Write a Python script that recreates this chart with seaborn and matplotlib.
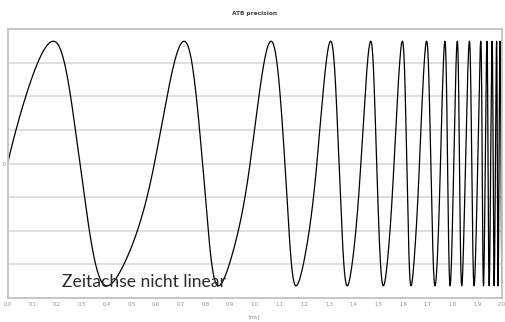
import numpy as np
import pandas as pd
import matplotlib
matplotlib.use("Agg")
import matplotlib.pyplot as plt
import seaborn as sns

# Turning points of the signal: zero crossings (0) and extremes (+1 / -1), time in ms
key_t = [0.000, 0.185, 0.293, 0.402, 0.594, 0.714, 0.789, 0.853, 0.981,
         1.066, 1.122, 1.167, 1.251, 1.307, 1.341, 1.374, 1.429, 1.469,
         1.493, 1.520, 1.563, 1.597, 1.615, 1.632, 1.666, 1.695, 1.712,
         1.729, 1.751, 1.769,
         1.790, 1.819, 1.837, 1.868, 1.887, 1.914, 1.925, 1.939, 1.948,
         1.960, 1.968, 1.978, 1.984, 1.992, 2.000]
key_v = [0, 1, 0, -1, 0, 1, 0, -1, 0,
         1, 0, -1, 0, 1, 0, -1, 0, 1,
         0, -1, 0, 1, 0, -1, 0, 1, 0,
         -1, 0, 1,
         -1, 1, -1, 1, -1, 1, -1, 1, -1,
         1, -1, 1, -1, 1, -1]

x_ticks = [round(0.1 * i, 1) for i in range(21)]
x_tick_labels = [f"{v:.1f}".replace(".", ",") for v in x_ticks]

title = "ATB precision"
x_label = "[ms]"
note = "Zeitachse nicht linear"


def pchip(x, y, xn):
    """Monotone cubic (Fritsch-Carlson) interpolation."""
    x = np.asarray(x, float)
    y = np.asarray(y, float)
    h = np.diff(x)
    d = np.diff(y) / h
    m = np.zeros_like(y)
    for k in range(1, len(y) - 1):
        if d[k - 1] * d[k] > 0:
            w1 = 2 * h[k] + h[k - 1]
            w2 = h[k] + 2 * h[k - 1]
            m[k] = (w1 + w2) / (w1 / d[k - 1] + w2 / d[k])
    m[0] = d[0]
    m[-1] = d[-1]
    i = np.clip(np.searchsorted(x, xn) - 1, 0, len(h) - 1)
    s = (xn - x[i]) / h[i]
    h00 = (1 + 2 * s) * (1 - s) ** 2
    h10 = s * (1 - s) ** 2
    h01 = s ** 2 * (3 - 2 * s)
    h11 = s ** 2 * (s - 1)
    return h00 * y[i] + h10 * h[i] * m[i] + h01 * y[i + 1] + h11 * h[i] * m[i + 1]


# Phase advances a quarter turn per unit step in value between turning points
key_phase = np.concatenate([[0.0], np.cumsum(np.abs(np.diff(key_v)) * np.pi / 2)])
t = np.linspace(key_t[0], key_t[-1], 8000)
signal = pd.DataFrame({"t": t, "v": np.sin(pchip(key_t, key_phase, t))})

sns.set_theme(style="white")
plt.rcParams["font.family"] = ["DejaVu Sans"]

fig = plt.figure(figsize=(5.05, 3.22), dpi=100)
ax = fig.add_axes([0.0149, 0.0745, 0.9792, 0.8354])

sns.lineplot(data=signal, x="t", y="v", sort=False, estimator=None,
             color="black", linewidth=0.9, ax=ax)

ax.set_xlim(0, 2.0)
ax.set_ylim(-1.1, 1.1)
yt = np.linspace(-1.1, 1.1, 9)
ax.set_yticks(yt)
ax.set_yticklabels(["" if abs(v) > 1e-9 else "0" for v in yt])
ax.set_xticks(x_ticks)
ax.set_xticklabels(x_tick_labels)
ax.tick_params(axis="both", length=0, pad=3, labelsize=3.6, labelcolor="#8a8a8a")
ax.tick_params(axis="y", pad=1.5)

ax.grid(axis="y", color="#dcdcdc", linewidth=1.3)
ax.set_axisbelow(True)
for side, sp in ax.spines.items():
    sp.set_visible(True)
    sp.set_color("#c4c4c4")
    sp.set_linewidth(1.3)

ax.set_xlabel("")
ax.set_ylabel("")
fig.text(0.503, 0.008, x_label, ha="center", va="bottom", fontsize=3.6, color="#8a8a8a")
fig.text(0.505, 0.957, title, ha="center", va="center", fontsize=4.2,
         fontweight="bold", color="#444444")

ax.text(0.22, -0.965, note, ha="left", va="center", fontsize=12.6,
        color="#2a2a2a", family=["Lato", "DejaVu Sans"])

fig.savefig("out.png", dpi=100, facecolor="white")
